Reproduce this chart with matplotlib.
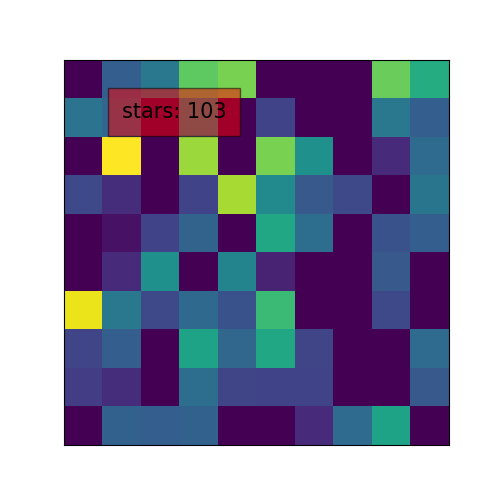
import numpy as np
import matplotlib
matplotlib.use("Agg")
import matplotlib.pyplot as plt

row0 = [0.00, 0.30, 0.40, 0.75, 0.80, 0.00, 0.00, 0.00, 0.77, 0.62]
row1 = [0.38, 0.33, 0.00, 0.52, 0.00, 0.20, 0.00, 0.00, 0.40, 0.30]
row2 = [0.00, 1.00, 0.00, 0.85, 0.00, 0.80, 0.50, 0.00, 0.12, 0.35]
row3 = [0.22, 0.13, 0.00, 0.20, 0.87, 0.48, 0.28, 0.22, 0.00, 0.39]
row4 = [0.00, 0.05, 0.20, 0.32, 0.00, 0.60, 0.36, 0.00, 0.25, 0.30]
row5 = [0.00, 0.12, 0.50, 0.00, 0.45, 0.10, 0.00, 0.00, 0.28, 0.00]
row6 = [0.97, 0.40, 0.22, 0.34, 0.25, 0.68, 0.00, 0.00, 0.22, 0.00]
row7 = [0.21, 0.30, 0.00, 0.58, 0.33, 0.60, 0.21, 0.00, 0.00, 0.35]
row8 = [0.18, 0.13, 0.00, 0.36, 0.21, 0.20, 0.20, 0.00, 0.00, 0.28]
row9 = [0.00, 0.31, 0.30, 0.31, 0.00, 0.00, 0.12, 0.35, 0.58, 0.00]

label = "stars: 103"

data = np.array([row0, row1, row2, row3, row4, row5, row6, row7, row8, row9])

fig, ax = plt.subplots(figsize=(5, 5), dpi=100)
ax.imshow(data, cmap="viridis", vmin=0, vmax=1)
ax.set_xticks([])
ax.set_yticks([])
ax.text(1, 1, label, fontsize=15,
        bbox={"facecolor": "red", "alpha": 0.5, "pad": 10})
fig.savefig("out.png", dpi=100)
